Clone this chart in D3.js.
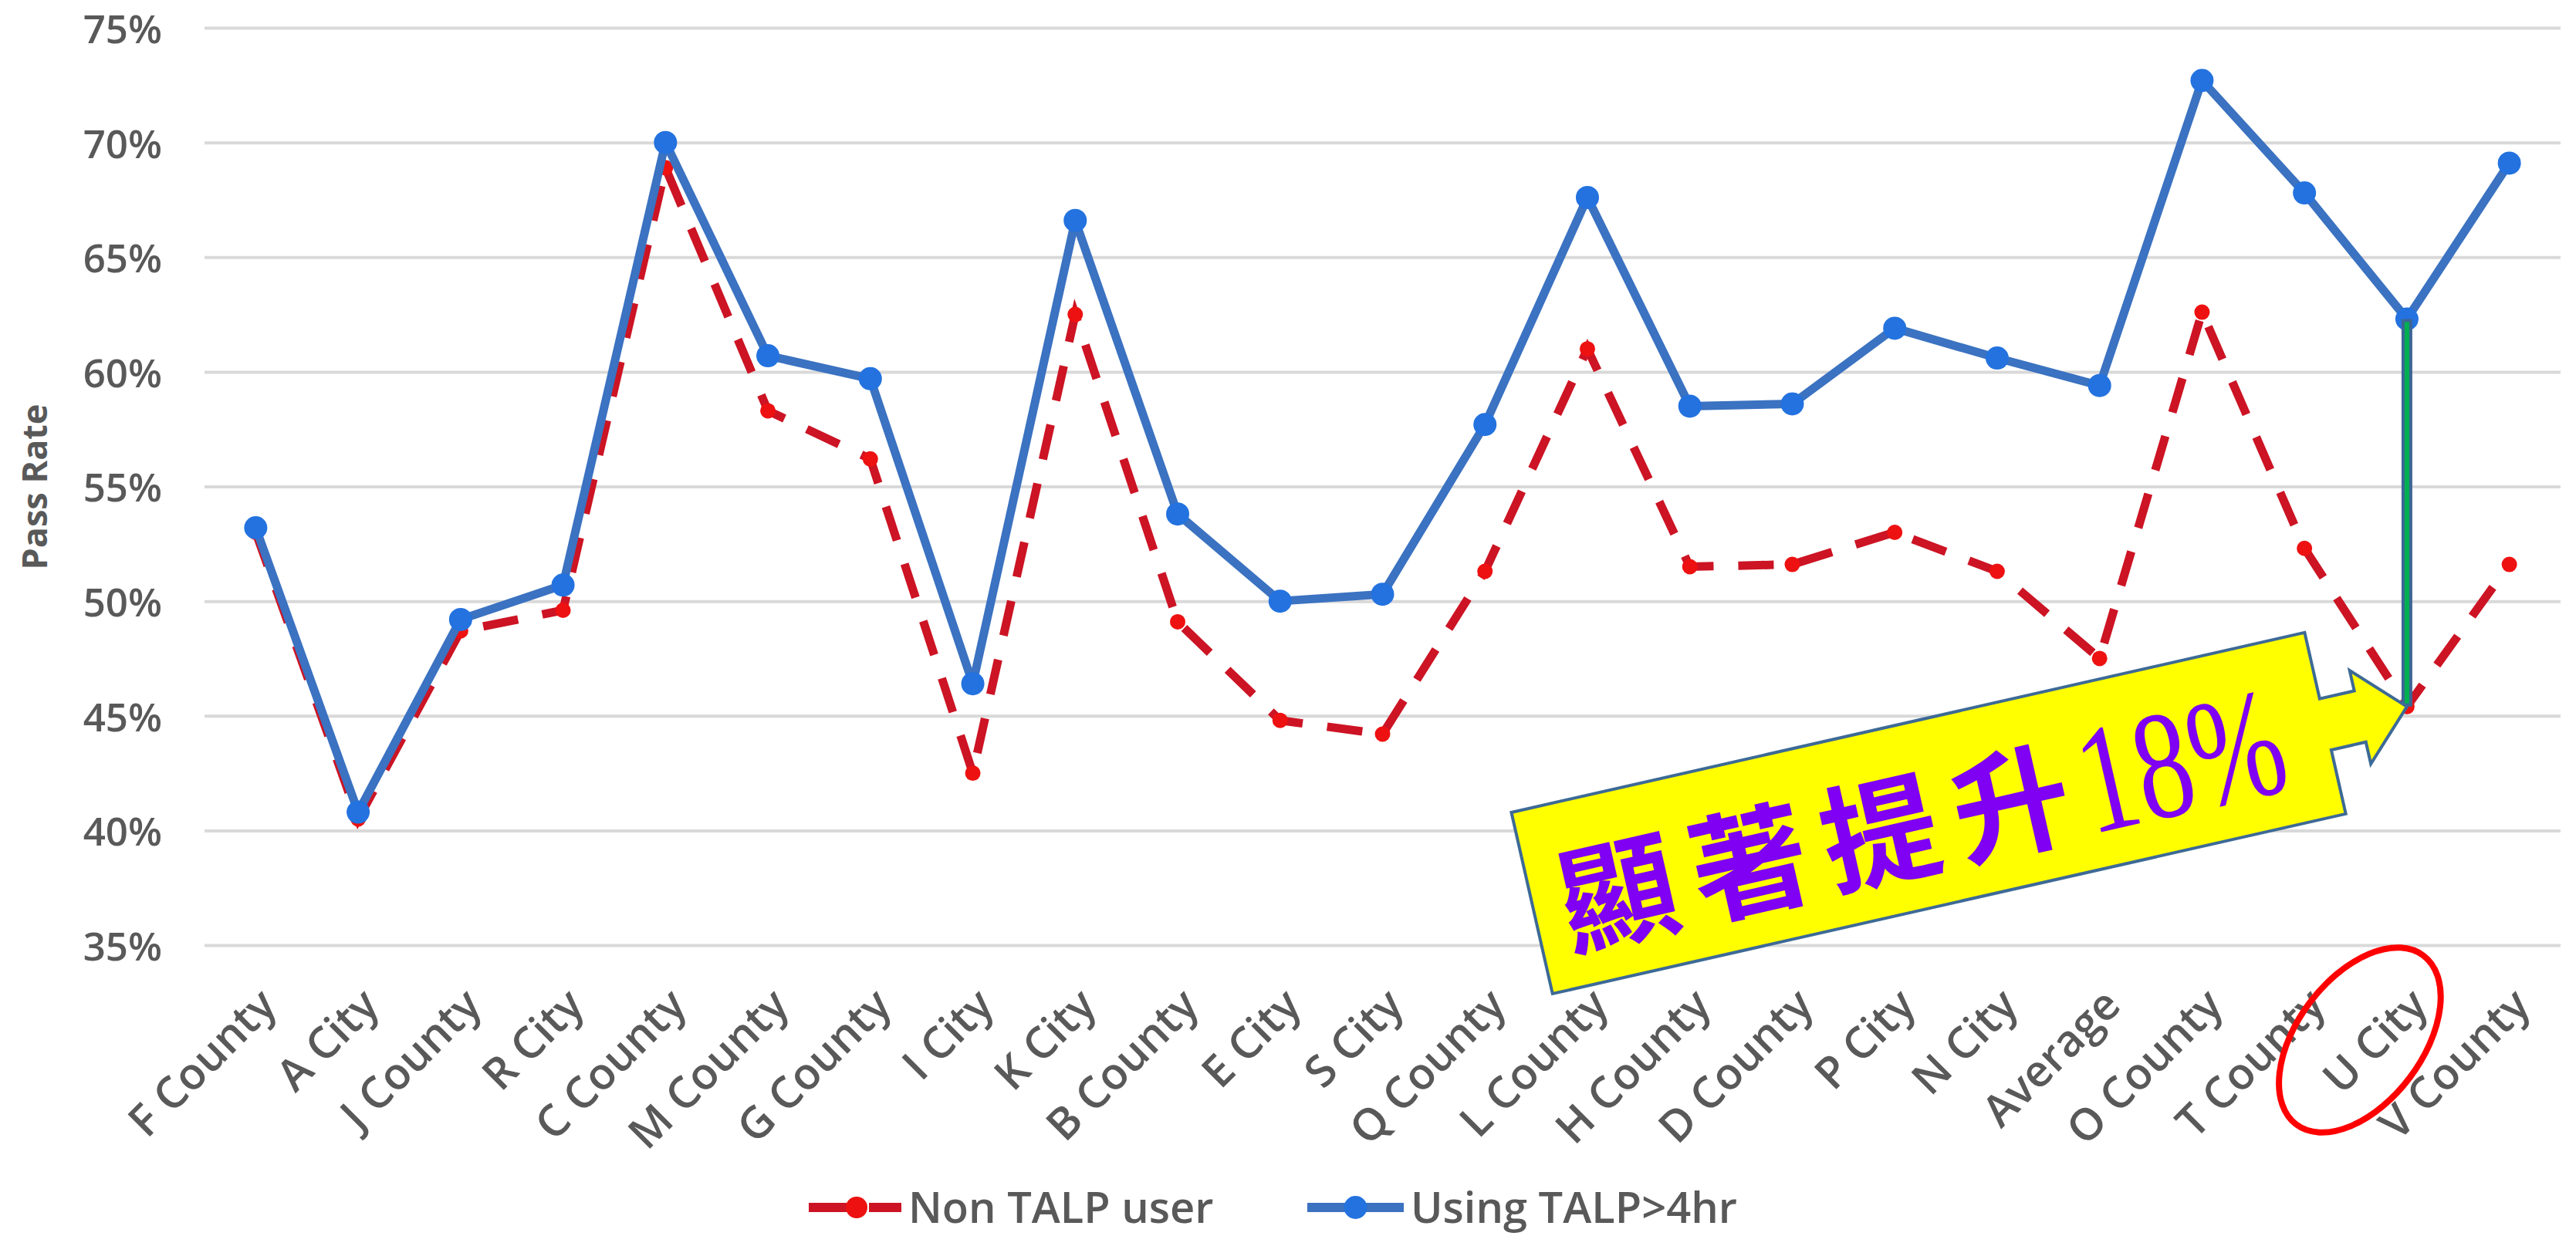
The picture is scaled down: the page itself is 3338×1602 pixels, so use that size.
<!DOCTYPE html>
<html>
<head>
<meta charset="utf-8">
<script src="https://cdn.jsdelivr.net/npm/d3@7"></script>
<style>
  body { margin: 0; background: #fff; }
  svg { display: block; }
</style>
</head>
<body>
<div id="chart"></div>
<script>
const categories = [
  "F County", "A City", "J County", "R City", "C County", "M County",
  "G County", "I City", "K City", "B County", "E City", "S City",
  "Q County", "L County", "H County", "D County", "P City", "N City",
  "Average", "O County", "T County", "U City", "V County",
];
// pass rates in %
const nonTalp = [
  53.0, 40.5, 48.7, 49.6, 68.9, 58.3, 56.2, 42.5, 62.5, 49.1, 44.8, 44.2,
  51.3, 61.0, 51.5, 51.6, 53.0, 51.3, 47.5, 62.6, 52.3, 45.4, 51.6,
];
const usingTalp = [
  53.2, 40.8, 49.2, 50.7, 70.0, 60.7, 59.7, 46.4, 66.6, 53.8, 50.0, 50.3,
  57.7, 67.6, 58.5, 58.6, 61.9, 60.6, 59.4, 72.7, 67.8, 62.3, 69.1,
];
const yTicks = [35, 40, 45, 50, 55, 60, 65, 70, 75];
const seriesNames = ["Non TALP user", "Using TALP>4hr"];
const highlightCity = "U City";
const calloutText = ["顯著提升", "18%"];

const width = 3338;
const height = 1602;
const textColour = "#595959";
const redLine = "#CC1424";
const redDot = "#EE1111";
const blueLine = "#3B72C1";
const blueDot = "#2372DF";

const svg = d3
  .select("#chart")
  .append("svg")
  .attr("width", width)
  .attr("height", height);

const x = d3.scaleBand().domain(categories).range([265, 3318]);
const cx = (c) => x(c) + x.bandwidth() / 2;
const y = d3.scaleLinear().domain([35, 75]).range([1225, 36]);

// gridlines + y labels
svg
  .append("g")
  .attr("transform", "translate(265,0)")
  .call(
    d3
      .axisLeft(y)
      .tickValues(yTicks)
      .tickSize(-(3318 - 265))
      .tickPadding(55)
      .tickFormat((d) => d + "%"),
  )
  .call((g) => g.select(".domain").remove())
  .call((g) =>
    g.selectAll(".tick line").attr("stroke", "#D9D9D9").attr("stroke-width", 4),
  )
  .call((g) =>
    g
      .selectAll(".tick text")
      .attr("dy", "0.38em")
      .attr("fill", textColour)
      .style("font-family", "'Open Sans', sans-serif")
      .style("font-weight", 600)
      .style("font-size", "51px"),
  );

svg
  .append("text")
  .attr("transform", "translate(43,631) rotate(-90)")
  .attr("text-anchor", "middle")
  .attr("dominant-baseline", "central")
  .attr("fill", textColour)
  .style("font-family", "'Open Sans', sans-serif")
  .style("font-weight", 700)
  .style("font-size", "45px")
  .text("Pass Rate");

// x labels
svg
  .append("g")
  .selectAll("text")
  .data(categories)
  .join("text")
  .attr("transform", (d) => `translate(${cx(d) + 30},${1306}) rotate(-45)`)
  .attr("text-anchor", "end")
  .attr("fill", textColour)
  .style("font-family", "'Open Sans', sans-serif")
  .style("font-weight", 600)
  .style("font-size", "57px")
  .text((d) => d);

const lineGen = (vals) =>
  d3
    .line()
    .x((d, i) => cx(categories[i]))
    .y((d) => y(d))(vals);

// red dashed series
svg
  .append("path")
  .attr("d", lineGen(nonTalp))
  .attr("fill", "none")
  .attr("stroke", redLine)
  .attr("stroke-width", 11)
  .attr("stroke-dasharray", "46,32");

svg
  .append("g")
  .selectAll("circle")
  .data(nonTalp)
  .join("circle")
  .attr("cx", (d, i) => cx(categories[i]))
  .attr("cy", (d) => y(d))
  .attr("r", 10)
  .attr("fill", redDot);

// blue series
svg
  .append("path")
  .attr("d", lineGen(usingTalp))
  .attr("fill", "none")
  .attr("stroke", blueLine)
  .attr("stroke-width", 11)
  .attr("stroke-linejoin", "round");

svg
  .append("g")
  .selectAll("circle")
  .data(usingTalp)
  .join("circle")
  .attr("cx", (d, i) => cx(categories[i]))
  .attr("cy", (d) => y(d))
  .attr("r", 15)
  .attr("fill", blueDot);

// gap line at the highlighted city
const hi = categories.indexOf(highlightCity);
const hx = cx(highlightCity);
svg
  .append("line")
  .attr("x1", hx)
  .attr("x2", hx)
  .attr("y1", y(usingTalp[hi]))
  .attr("y2", y(nonTalp[hi]))
  .attr("stroke", "#3C6694")
  .attr("stroke-width", 14);
svg
  .append("line")
  .attr("x1", hx)
  .attr("x2", hx)
  .attr("y1", y(usingTalp[hi]) + 4)
  .attr("y2", y(nonTalp[hi]) - 4)
  .attr("stroke", "#00B050")
  .attr("stroke-width", 6);

// callout arrow, tip on the red point
const tip = [1162, 123];
const shape = [
  [0, 0], [1054, 0], [1054, 88], [1100, 88], [1100, 61], tip,
  [1100, 185], [1100, 156], [1054, 156], [1054, 241], [0, 241],
].map(([u, v]) => [u - tip[0], v - tip[1]]);

const callout = svg
  .append("g")
  .attr("transform", `translate(${hx},${y(nonTalp[hi])}) rotate(-12.78)`);

callout
  .append("path")
  .attr("d", d3.line()(shape) + "Z")
  .attr("fill", "#FFFF00")
  .attr("stroke", "#3D6A96")
  .attr("stroke-width", 4)
  .attr("stroke-linejoin", "miter");

const ct = callout.append("text").attr("fill", "#7F00F2");
ct.append("tspan")
  .attr("x", 36 - tip[0])
  .attr("y", 189 - tip[1])
  .attr("textLength", 674)
  .attr("lengthAdjust", "spacing")
  .style("font-family", "'Noto Sans CJK TC', sans-serif")
  .style("font-weight", 700)
  .style("font-size", "152px")
  .text(calloutText[0]);
ct.append("tspan")
  .attr("x", 727 - tip[0])
  .attr("y", 194 - tip[1])
  .attr("textLength", 268)
  .attr("lengthAdjust", "spacingAndGlyphs")
  .style("font-family", "'Liberation Serif', serif")
  .style("font-size", "200px")
  .text(calloutText[1]);

// red ring around the highlighted label
svg
  .append("ellipse")
  .attr("transform", `translate(${hx - 61},1348) rotate(-53)`)
  .attr("rx", 137)
  .attr("ry", 81)
  .attr("fill", "none")
  .attr("stroke", "#FF0000")
  .attr("stroke-width", 8);

// legend
const legend = svg.append("g").attr("transform", "translate(0,1565)");
const legendItems = [
  { name: seriesNames[0], x0: 1048, x1: 1168, colour: redLine, dot: redDot, r: 14, dash: "52,26" },
  { name: seriesNames[1], x0: 1694, x1: 1819, colour: blueLine, dot: blueDot, r: 15, dash: null },
];
legendItems.forEach((d) => {
  legend
    .append("line")
    .attr("x1", d.x0)
    .attr("x2", d.x1)
    .attr("stroke", d.colour)
    .attr("stroke-width", 12)
    .attr("stroke-dasharray", d.dash);
  legend
    .append("circle")
    .attr("cx", d.dash ? d.x0 + 62 : (d.x0 + d.x1) / 2)
    .attr("r", d.r)
    .attr("fill", d.dot);
  legend
    .append("text")
    .attr("x", d.x1 + 9)
    .attr("dy", "0.36em")
    .attr("fill", textColour)
    .style("font-family", "'Open Sans', sans-serif")
    .style("font-weight", 600)
    .style("font-size", "56px")
    .text(d.name);
});
</script>
</body>
</html>
